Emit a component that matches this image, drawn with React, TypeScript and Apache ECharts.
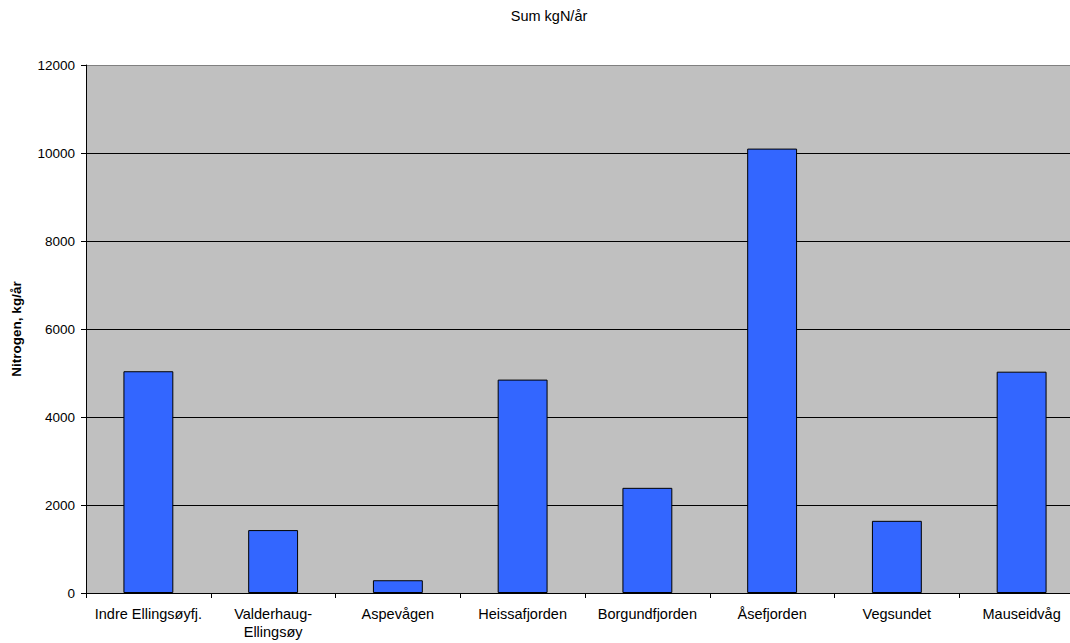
import React, { useEffect, useRef } from "react";
import * as echarts from "echarts";

const categories = [
  "Indre Ellingsøyfj.",
  "Valderhaug-Ellingsøy",
  "Aspevågen",
  "Heissafjorden",
  "Borgundfjorden",
  "Åsefjorden",
  "Vegsundet",
  "Mauseidvåg",
];
const values = [5040, 1430, 290, 4850, 2390, 10100, 1640, 5030];
const titleText = "Sum kgN/år";
const yAxisName = "Nitrogen, kg/år";

export default function App() {
  const ref = useRef<HTMLDivElement>(null);
  useEffect(() => {
    if (!ref.current) return;
    const chart = echarts.init(ref.current, null, { renderer: "svg" });
    const font = "Arial, 'Liberation Sans', sans-serif";
    chart.setOption({
      animation: false,
      backgroundColor: "#ffffff",
      title: {
        text: titleText,
        left: 544,
        textAlign: "center",
        top: 3,
        textStyle: { fontFamily: font, fontSize: 14.5, fontWeight: "normal", color: "#000" },
      },
      grid: {
        left: 86,
        right: 0,
        top: 65,
        bottom: 50,
        show: true,
        backgroundColor: "#C0C0C0",
        borderWidth: 0,
      },
      xAxis: {
        type: "category",
        data: categories,
        axisLine: { show: true, lineStyle: { color: "#000", width: 1 } },
        axisTick: { show: true, length: 5, lineStyle: { color: "#000" } },
        axisLabel: {
          interval: 0,
          margin: 12,
          fontFamily: font,
          fontSize: 14.5,
          color: "#000",
          lineHeight: 18,
          formatter: (v: string) => v.replace("-", "-\n"),
        },
      },
      yAxis: {
        type: "value",
        min: 0,
        max: 12000,
        interval: 2000,
        name: yAxisName,
        nameLocation: "middle",
        nameGap: 63,
        nameTextStyle: { fontFamily: font, fontSize: 13.5, fontWeight: "bold", color: "#000" },
        axisLine: { show: true, lineStyle: { color: "#000", width: 1 } },
        axisTick: { show: true, length: 5, lineStyle: { color: "#000" } },
        axisLabel: {
          fontFamily: font,
          fontSize: 13.5,
          color: "#000",
          margin: 11,
          formatter: (v: number) => String(v),
        },
        splitLine: {
          show: true,
          lineStyle: {
            color: ["#000", "#000", "#000", "#000", "#000", "#000", "#808080"],
            width: 1,
          },
        },
      },
      series: [
        {
          type: "bar",
          data: values,
          barCategoryGap: "60%",
          itemStyle: { color: "#3366FF", borderColor: "#000", borderWidth: 1 },
        },
      ],
    });
    return () => chart.dispose();
  }, []);
  return (
    <div
      style={{ position: "absolute", left: 0, top: 0, width: 1070, height: 643, overflow: "hidden" }}
    >
      <div ref={ref} style={{ width: 1084, height: 643 }} />
    </div>
  );
}
